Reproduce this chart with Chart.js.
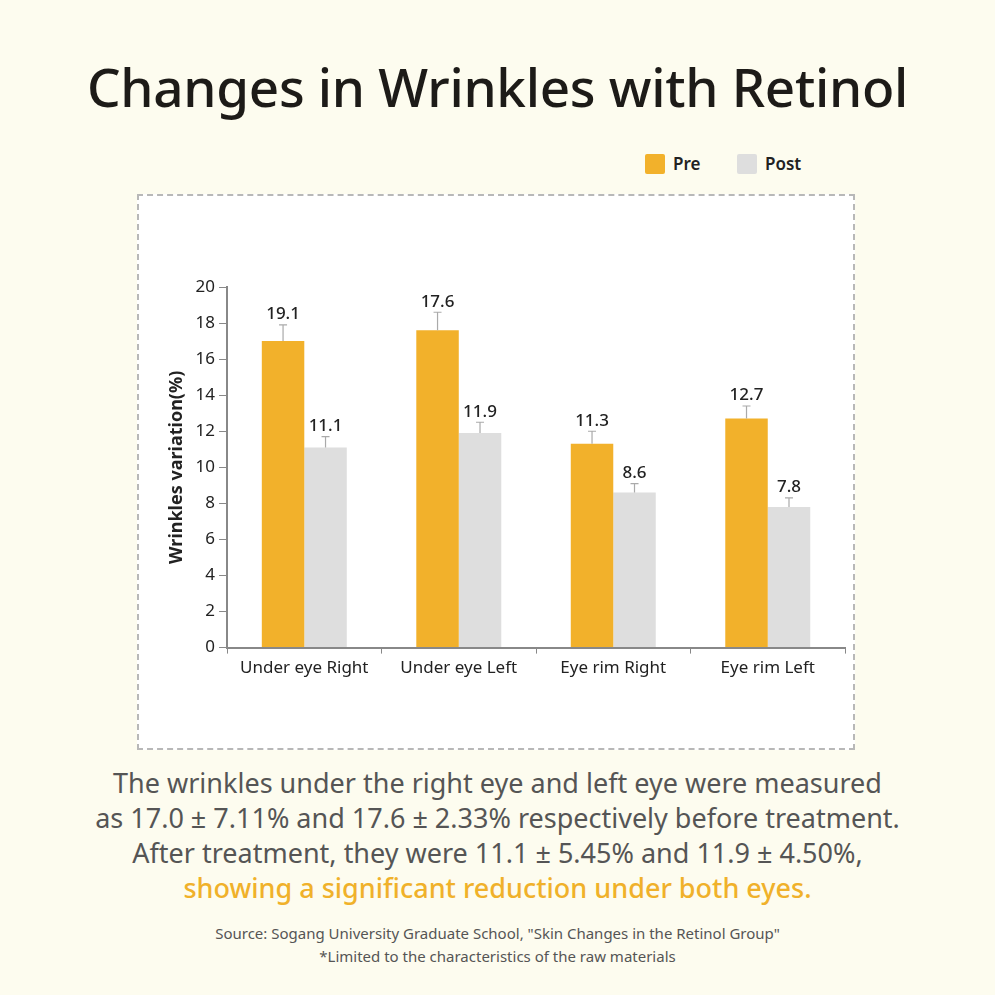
<!DOCTYPE html>
<html><head><meta charset="utf-8">
<script src="https://cdn.jsdelivr.net/npm/chart.js@4"></script>
<style>
body{margin:0;background:#fdfcef;font-family:"Noto Sans",sans-serif;}
#wrap{position:relative;width:995px;height:995px;}
h1{position:absolute;top:50px;left:0;width:995px;text-align:center;margin:0;font-size:53px;font-weight:500;color:#1d1b18;letter-spacing:-0.3px;}
.leg{position:absolute;top:152px;font-size:17px;font-weight:600;color:#222;}
.leg span{display:inline-block;width:20px;height:20px;vertical-align:-4px;margin-right:8px;border-radius:2px;}
#box{position:absolute;left:137px;top:194px;width:714px;height:552px;border:2px dashed #b8b8b8;background:#fff;}
#cv{position:absolute;left:140px;top:260px;}
.txt{position:absolute;top:765px;left:0;width:995px;text-align:center;font-size:27px;line-height:35px;color:#555;}
.txt b{color:#f0b12a;font-weight:500;}
.src{position:absolute;top:922px;left:0;width:995px;text-align:center;font-size:15px;line-height:23px;color:#555;}
</style></head><body>
<div id="wrap">
<h1>Changes in Wrinkles with Retinol</h1>
<div class="leg" style="left:645px"><span style="background:#f2b12b"></span>Pre</div>
<div class="leg" style="left:737px"><span style="background:#dedede"></span>Post</div>
<div id="box"></div>
<canvas id="cv" width="710" height="422"></canvas>
<div class="txt">The wrinkles under the right eye and left eye were measured<br>as 17.0 ± 7.11% and 17.6 ± 2.33% respectively before treatment.<br>After treatment, they were 11.1 ± 5.45% and 11.9 ± 4.50%,<br><b>showing a significant reduction under both eyes.</b></div>
<div class="src">Source: Sogang University Graduate School, "Skin Changes in the Retinol Group"<br>*Limited to the characteristics of the raw materials</div>
</div>
<script>
const categories = ["Under eye Right", "Under eye Left", "Eye rim Right", "Eye rim Left"];
const preValues = [17.0, 17.6, 11.3, 12.7];
const postValues = [11.1, 11.9, 8.6, 7.8];
const preErrTop = [17.9, 18.6, 12.0, 13.4];
const postErrTop = [11.7, 12.5, 9.1, 8.3];
const preLabels = ["19.1", "17.6", "11.3", "12.7"];
const postLabels = ["11.1", "11.9", "8.6", "7.8"];
const yTicks = [0, 2, 4, 6, 8, 10, 12, 14, 16, 18, 20];

const errPlugin = {
  id: "err",
  afterDatasetsDraw(chart) {
    const ctx = chart.ctx, y = chart.scales.y;
    const tops = [preErrTop, postErrTop], labs = [preLabels, postLabels];
    chart.data.datasets.forEach((ds, di) => {
      chart.getDatasetMeta(di).data.forEach((bar, i) => {
        const yt = y.getPixelForValue(tops[di][i]);
        ctx.save();
        ctx.strokeStyle = "#aaa"; ctx.lineWidth = 1.2;
        ctx.beginPath();
        ctx.moveTo(bar.x, bar.y); ctx.lineTo(bar.x, yt);
        ctx.moveTo(bar.x - 4, yt); ctx.lineTo(bar.x + 4, yt);
        ctx.stroke();
        ctx.fillStyle = "#222"; ctx.font = "500 17px 'Noto Sans'";
        ctx.textAlign = "center"; ctx.textBaseline = "bottom";
        ctx.fillText(labs[di][i], bar.x, yt - 2);
        ctx.restore();
      });
    });
  }
};

new Chart(document.getElementById("cv"), {
  type: "bar",
  data: {
    labels: categories,
    datasets: [
      { label: "Pre", data: preValues, backgroundColor: "#f2b12b" },
      { label: "Post", data: postValues, backgroundColor: "#dedede" }
    ]
  },
  options: {
    responsive: false,
    animation: false,
    layout: { padding: { left: 22, right: 5, top: 27, bottom: 0 } },
    datasets: { bar: { categoryPercentage: 0.55, barPercentage: 1 } },
    plugins: { legend: { display: false }, tooltip: { enabled: false } },
    scales: {
      x: {
        grid: { display: true, drawOnChartArea: false, offset: true, color: "#888", tickLength: 6 },
        border: { color: "#888", width: 2 },
        ticks: { color: "#222", font: { size: 17, family: "Noto Sans" }, padding: 4 }
      },
      y: {
        min: 0, max: 20,
        afterBuildTicks: ax => { ax.ticks = yTicks.map(v => ({ value: v })); },
        grid: { display: true, drawOnChartArea: false, color: "#888", tickLength: 8 },
        border: { color: "#888", width: 2 },
        ticks: { color: "#222", font: { size: 17, family: "Noto Sans" }, padding: 4 },
        title: { display: true, text: "Wrinkles variation(%)", color: "#222", font: { size: 18, weight: "bold", family: "Noto Sans" } }
      }
    }
  },
  plugins: [errPlugin]
});
</script>
</body></html>
